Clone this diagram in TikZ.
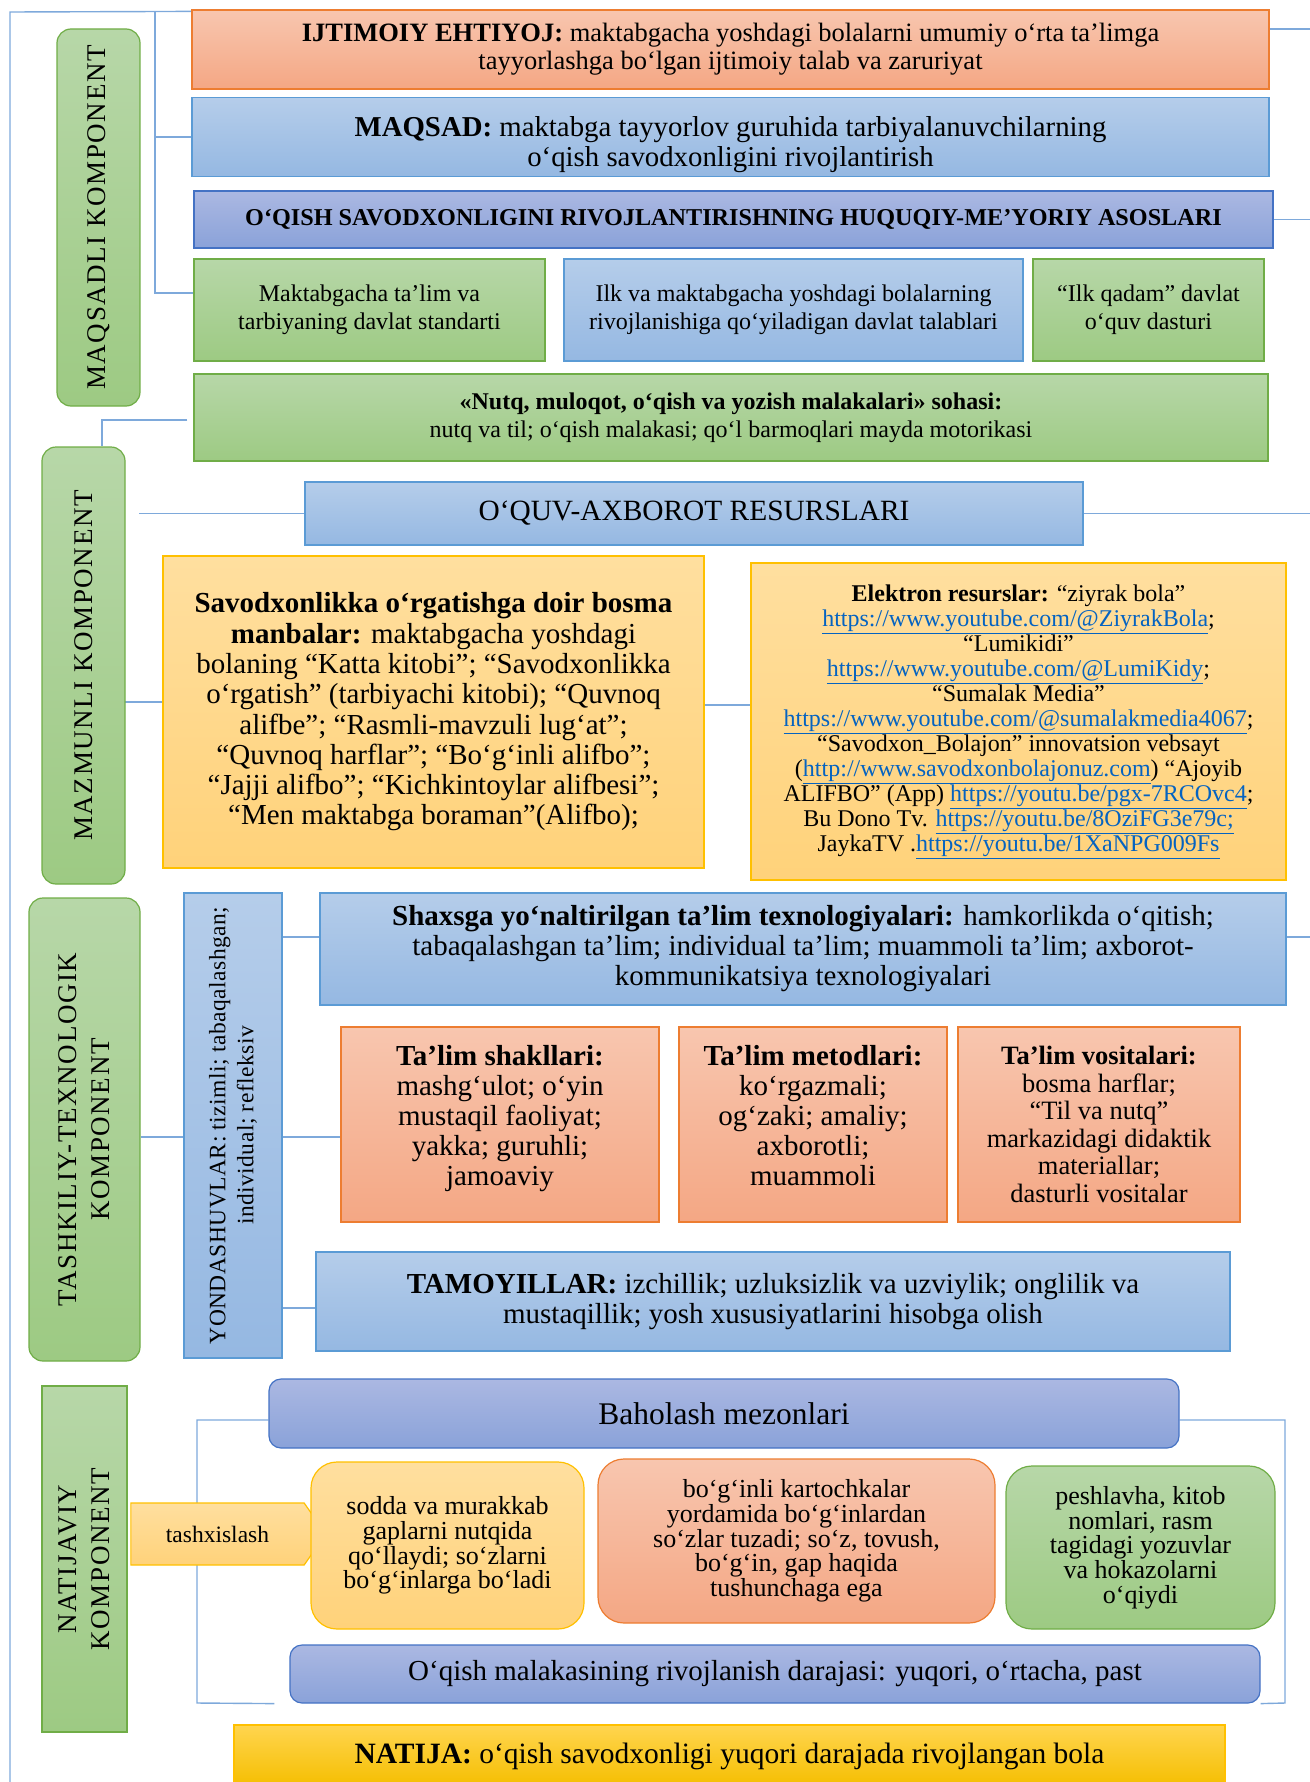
\documentclass[tikz,border=0pt]{standalone}
\usepackage{fontspec}
\setmainfont{Liberation Serif}
\newfontfamily\labfont[LetterSpace=6]{Liberation Serif}
\newfontfamily\yondfont[LetterSpace=2]{Liberation Serif}
\usetikzlibrary{shapes.symbols,backgrounds}

\definecolor{orTop}{HTML}{F8C6AF}
\definecolor{orBot}{HTML}{F4A784}
\definecolor{orLine}{HTML}{ED7D31}
\definecolor{blTop}{HTML}{B5CDEA}
\definecolor{blBot}{HTML}{95B8E2}
\definecolor{blLine}{HTML}{5B9BD5}
\definecolor{puTop}{HTML}{ABB8E2}
\definecolor{puBot}{HTML}{8AA2D9}
\definecolor{puLine}{HTML}{4472C4}
\definecolor{grTop}{HTML}{B7D7A8}
\definecolor{grBot}{HTML}{9DCA83}
\definecolor{grLine}{HTML}{70AD47}
\definecolor{goTop}{HTML}{FFDF9F}
\definecolor{goBot}{HTML}{FFD27A}
\definecolor{goLine}{HTML}{FFC000}
\definecolor{naTop}{HTML}{FFD54F}
\definecolor{naBot}{HTML}{F5BE00}
\definecolor{lnBlue}{HTML}{7EA9DB}
\definecolor{linkBlue}{HTML}{0563C1}

\newcommand{\fsz}[2]{\fontsize{#1pt}{#2pt}\selectfont}
\newcommand{\lnk}[1]{\textcolor{linkBlue}{\underline{#1}}}
% extra room below the last line pushes the text up
\newcommand{\lowpad}[1]{\rule[-#1]{0pt}{1pt}}
% extra room above the first line pushes the text down
\newcommand{\highpad}[1]{\rule{0pt}{#1}}

\tikzset{
  box/.style={draw, line width=1.2pt, align=center, inner sep=3pt},
  orbox/.style={box, draw=orLine, top color=orTop, bottom color=orBot},
  blbox/.style={box, draw=blLine, top color=blTop, bottom color=blBot},
  pubox/.style={box, draw=puLine, top color=puTop, bottom color=puBot},
  grbox/.style={box, draw=grLine, top color=grTop, bottom color=grBot},
  gobox/.style={box, draw=goLine, top color=goTop, bottom color=goBot},
  nabox/.style={box, draw=goLine, top color=naTop, bottom color=naBot},
  complab/.style={grbox, rotate=90, font=\labfont\fsz{27}{33}},
  conn/.style={draw=lnBlue, line width=1.4pt},
}

\begin{document}
\begin{tikzpicture}[x=1pt,y=-1pt]
\useasboundingbox (0,0) rectangle (1309,1782);
\clip (0,0) rectangle (1309,1782);

% maqsadli komponent
\node[complab, rounded corners=14pt, minimum width=377, minimum height=83] (labMaq) at (98.5,217.5) {MAQSADLI KOMPONENT};
\node[orbox, minimum width=1077, minimum height=79, font=\fsz{26.5}{28}] (ijt) at (730.5,49.5)
  {\textbf{IJTIMOIY EHTIYOJ:} maktabgacha yoshdagi bolalarni umumiy o‘rta ta’limga\\tayyorlashga bo‘lgan ijtimoiy talab va zaruriyat};
\node[blbox, minimum width=1077, minimum height=76, font=\fsz{28.8}{30}] (maq) at (730.5,137)
  {\highpad{36pt}\textbf{MAQSAD:} maktabga tayyorlov guruhida tarbiyalanuvchilarning\\o‘qish savodxonligini rivojlantirish};
\node[pubox, minimum width=1079, minimum height=57, font=\fsz{24.2}{26}\bfseries] (huq) at (733.5,219.5)
  {O‘QISH SAVODXONLIGINI RIVOJLANTIRISHNING HUQUQIY-ME’YORIY ASOSLARI};
\node[grbox, minimum width=351, minimum height=102, font=\fsz{24}{28}] (stdA) at (369.5,310)
  {Maktabgacha ta’lim va\\tarbiyaning davlat standarti};
\node[blbox, minimum width=459, minimum height=102, font=\fsz{24}{28}] (stdB) at (793.5,310)
  {Ilk va maktabgacha yoshdagi bolalarning\\rivojlanishiga qo‘yiladigan davlat talablari};
\node[grbox, minimum width=231, minimum height=102, font=\fsz{24}{28}] (stdC) at (1148.5,310)
  {“Ilk qadam” davlat\\o‘quv dasturi};
\node[grbox, minimum width=1074, minimum height=87, font=\fsz{24}{28}] (nutq) at (731,417.5)
  {\textbf{«Nutq, muloqot, o‘qish va yozish malakalari» sohasi:}\\nutq va til; o‘qish malakasi; qo‘l barmoqlari mayda motorikasi};

% mazmunli komponent
\node[complab, rounded corners=14pt, minimum width=437, minimum height=83] (labMaz) at (83.5,665.5) {MAZMUNLI KOMPONENT};
\node[blbox, minimum width=778, minimum height=63, font=\fsz{29.4}{31}] (res) at (694,513.5) {O‘QUV-AXBOROT RESURSLARI};
\node[gobox, minimum width=541, minimum height=312, font=\fsz{29}{30.3}] (bosma) at (433.5,712)
  {\textbf{Savodxonlikka o‘rgatishga doir bosma}\\\textbf{manbalar:} maktabgacha yoshdagi\\bolaning “Katta kitobi”; “Savodxonlikka\\o‘rgatish” (tarbiyachi kitobi); “Quvnoq\\alifbe”; “Rasmli-mavzuli lug‘at”;\\“Quvnoq harflar”; “Bo‘g‘inli alifbo”;\\“Jajji alifbo”; “Kichkintoylar alifbesi”;\\“Men maktabga boraman”(Alifbo);};
\node[gobox, minimum width=535, minimum height=317, font=\fsz{24}{25}] (elek) at (1018.5,721.5)
  {\textbf{Elektron resurslar:} “ziyrak bola”\\\lnk{https://www.youtube.com/@ZiyrakBola};\\“Lumikidi”\\\lnk{https://www.youtube.com/@LumiKidy};\\“Sumalak Media”\\\lnk{https://www.youtube.com/@sumalakmedia4067};\\“Savodxon\_Bolajon” innovatsion vebsayt\\(\lnk{http://www.savodxonbolajonuz.com}) “Ajoyib\\ALIFBO” (App) \lnk{https://youtu.be/pgx-7RCOvc4};\\Bu Dono Tv. \lnk{https://youtu.be/8OziFG3e79c;}\\JaykaTV .\lnk{https://youtu.be/1XaNPG009Fs}};

% tashkiliy-texnologik komponent
\node[complab, rounded corners=14pt, minimum width=463, minimum height=111] (labTash) at (84.5,1129.5) {TASHKILIY-TEXNOLOGIK\\KOMPONENT};
\node[blbox, rotate=90, minimum width=465, minimum height=98, font=\yondfont\fsz{23.5}{28}] (yond) at (233,1125.5)
  {YONDASHUVLAR: tizimli; tabaqalashgan;\\individual; refleksiv};
\node[blbox, minimum width=966, minimum height=112, font=\fsz{29}{30}] (shax) at (803,949)
  {\textbf{Shaxsga yo‘naltirilgan ta’lim texnologiyalari:} hamkorlikda o‘qitish;\\tabaqalashgan ta’lim; individual ta’lim; muammoli ta’lim; axborot-\\kommunikatsiya texnologiyalari};
\node[orbox, minimum width=318, minimum height=195, font=\fsz{29}{30}] (shak) at (500,1124.5)
  {\textbf{Ta’lim shakllari:}\\mashg‘ulot; o‘yin\\mustaqil faoliyat;\\yakka; guruhli;\\jamoaviy\lowpad{18pt}};
\node[orbox, minimum width=268, minimum height=195, font=\fsz{29}{30}] (metod) at (813,1124.5)
  {\textbf{Ta’lim metodlari:}\\ko‘rgazmali;\\og‘zaki; amaliy;\\axborotli;\\muammoli\lowpad{18pt}};
\node[orbox, minimum width=282, minimum height=195, font=\fsz{26.5}{27.5}] (vosit) at (1099,1124.5)
  {\textbf{Ta’lim vositalari:}\\bosma harflar;\\“Til va nutq”\\markazidagi didaktik\\materiallar;\\dasturli vositalar};
\node[blbox, minimum width=914, minimum height=99, font=\fsz{29}{30}] (tamoy) at (773,1301.5)
  {\textbf{TAMOYILLAR:} izchillik; uzluksizlik va uzviylik; onglilik va\\mustaqillik; yosh xususiyatlarini hisobga olish};

% natijaviy komponent
\node[complab, minimum width=346, minimum height=85] (labNat) at (84.5,1559) {NATIJAVIY\\KOMPONENT};
\node[gobox, signal, signal to=east, signal pointer angle=110, minimum width=195, minimum height=62, font=\fsz{23.5}{26}] (tash) at (217.5,1534) {tashxislash};
\node[pubox, rounded corners=12pt, minimum width=910, minimum height=69, font=\fsz{31.5}{33}] (bah) at (724,1413.5) {Baholash mezonlari};
\node[gobox, rounded corners=26pt, minimum width=273, minimum height=167, font=\fsz{26}{24.7}] (sodda) at (447.5,1545.5)
  {sodda va murakkab\\gaplarni nutqida\\qo‘llaydi; so‘zlarni\\bo‘g‘inlarga bo‘ladi};
\node[orbox, rounded corners=26pt, minimum width=397, minimum height=164, font=\fsz{26}{24.7}] (bogin) at (796.5,1541)
  {bo‘g‘inli kartochkalar\\yordamida bo‘g‘inlardan\\so‘zlar tuzadi; so‘z, tovush,\\bo‘g‘in, gap haqida\\tushunchaga ega};
\node[grbox, rounded corners=26pt, minimum width=269, minimum height=163, font=\fsz{26}{24.7}] (pesh) at (1140.5,1547.5)
  {peshlavha, kitob\\nomlari, rasm\\tagidagi yozuvlar\\va hokazolarni\\o‘qiydi};
\node[pubox, rounded corners=12pt, minimum width=970, minimum height=58, font=\fsz{29}{31}] (oqish) at (775,1674)
  {O‘qish malakasining rivojlanish darajasi: yuqori, o‘rtacha, past};
\node[nabox, minimum width=991, minimum height=62, font=\fsz{29.5}{31}] (natija) at (729.5,1756)
  {\textbf{NATIJA:} o‘qish savodxonligi yuqori darajada rivojlangan bola};

% connectors
\begin{scope}[on background layer]
\coordinate (topL) at (10,12);
\coordinate (botL) at (10,1782);
\coordinate (mqTop) at (155,12);
\coordinate (natBL) at (197,1703);
\coordinate (natBR) at (1285,1703);
\draw[conn] ([yshift=-2pt]ijt.north west) -- (topL) -- (botL);
\draw[conn] (mqTop) |- ([yshift=17pt]stdA.west);
\draw[conn] (maq.west) -- (maq.west -| mqTop);
\draw[conn] ([yshift=20.5pt]ijt.east) -- ++(45,0);
\draw[conn] (huq.east) -- ++(40,0);
\draw[conn] ([xshift=-6pt,yshift=-2.5pt]nutq.west) -| ([xshift=18.5pt]labMaz.east);
\draw[conn] (res.west) -- ++(-165,0);
\draw[conn] (res.east) -- ++(230,0);
\draw[conn] ([yshift=10pt]bosma.west) -- ++(-38,0);
\draw[conn] ([yshift=7pt]bosma.east) -- ++(47,0);
\draw[conn] ([yshift=-7.5pt]labTash.south) -- ++(44,0);
\draw[conn] ([yshift=12pt]shax.west) -- ++(-38,0);
\draw[conn] ([yshift=12pt]shax.east) -- ++(25,0);
\draw[conn] ([yshift=-12.5pt]shak.west) -- ++(-59,0);
\draw[conn] ([yshift=-6.5pt]tamoy.west) -- ++(-34,0);
\draw[conn] ([yshift=-6.5pt]bah.west) -| (natBL) -- ([xshift=-15pt]oqish.south west);
\draw[conn] ([yshift=-6.5pt]bah.east) -| (natBR) -- (oqish.south east);
\end{scope}
\end{tikzpicture}
\end{document}
